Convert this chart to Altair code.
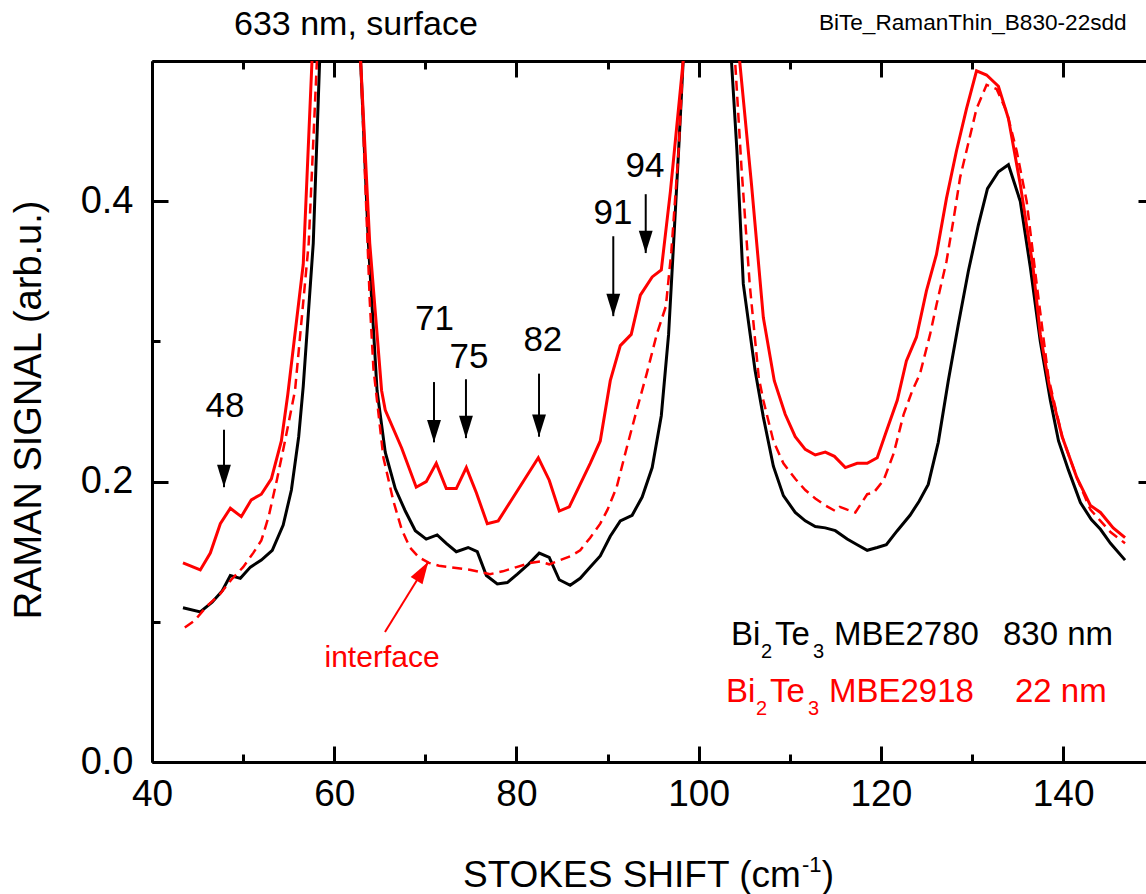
import altair as alt
import pandas as pd

FONT = "Liberation Sans"
X0, X1 = 40.0, 149.1
Y0, Y1 = 0.0, 0.5
W, H = 994, 701

# ---- series (values above 0.5 are off-scale peaks) ----
black_x = [43.4, 45.3, 46.6, 47.7, 48.6, 49.7, 50.8, 52.0, 53.2, 54.4, 55.3, 56.1, 56.6, 57.7, 58.4,
           60.5, 62.9, 63.75, 64.7, 65.6, 66.7, 67.8, 68.9, 70.1, 71.3, 72.3, 73.4, 74.7, 75.7, 76.7,
           77.9, 79.0, 80.1, 81.3, 82.5, 83.6, 84.7, 85.9, 87.0, 88.1, 89.2, 90.3, 91.4, 92.7, 93.8,
           94.9, 95.9, 96.7, 97.2, 97.8, 98.3, 101.0, 103.6, 104.2, 104.9, 106.2, 107.1, 108.2, 109.3,
           110.6, 111.7, 112.8, 113.9, 115.0, 116.3, 117.4, 118.5, 119.6, 120.6, 121.8, 123.2, 124.2,
           125.2, 126.3, 127.4, 128.5, 129.6, 130.7, 131.7, 132.9, 134.0, 135.3, 136.4, 137.5, 138.6,
           139.5, 140.6, 141.9, 143.1, 144.1, 145.2, 146.8]
black_y = [0.110, 0.107, 0.114, 0.122, 0.133, 0.131, 0.139, 0.144, 0.151, 0.169, 0.194, 0.232, 0.268, 0.370, 0.500,
           1.200, 0.500, 0.370, 0.265, 0.221, 0.195, 0.179, 0.165, 0.159, 0.162, 0.156, 0.150, 0.153, 0.150, 0.133,
           0.127, 0.128, 0.134, 0.141, 0.149, 0.146, 0.130, 0.126, 0.131, 0.139, 0.147, 0.161, 0.172, 0.176, 0.189,
           0.210, 0.247, 0.305, 0.364, 0.436, 0.500, 1.200, 0.500, 0.436, 0.341, 0.279, 0.246, 0.211, 0.190,
           0.178, 0.172, 0.168, 0.167, 0.165, 0.159, 0.155, 0.151, 0.153, 0.155, 0.165, 0.176, 0.186,
           0.198, 0.228, 0.272, 0.312, 0.350, 0.383, 0.409, 0.421, 0.426, 0.400, 0.353, 0.300, 0.258,
           0.229, 0.208, 0.185, 0.173, 0.166, 0.156, 0.144]

red_x = [43.4, 45.3, 46.4, 47.5, 48.6, 49.8, 50.9, 52.0, 53.1, 54.2, 54.9, 56.6, 57.56, 60.5, 62.9,
         63.9, 65.2, 65.6, 67.4, 69.0, 70.1, 71.2, 72.3, 73.4, 74.5, 75.6, 76.8, 78.0, 82.4, 83.6,
         84.7, 85.8, 88.1, 89.2, 90.3, 91.4, 92.6, 93.6, 94.9, 95.9, 96.9, 98.3, 101.0, 104.5, 105.8,
         107.1, 108.3, 109.5, 110.6, 111.7, 112.8, 113.9, 114.9, 116.1, 117.4, 118.5, 119.6, 120.5,
         121.8, 122.8, 123.9, 125.0, 126.1, 127.2, 128.3, 129.4, 130.5, 131.6, 132.9, 134.0, 135.3,
         136.7, 137.5, 138.5, 139.9, 141.5, 143.0, 144.1, 145.5, 146.8]
red_y = [0.142, 0.137, 0.149, 0.170, 0.181, 0.175, 0.187, 0.191, 0.202, 0.229, 0.262, 0.355, 0.500, 1.200, 0.500,
         0.370, 0.265, 0.251, 0.224, 0.196, 0.200, 0.213, 0.195, 0.195, 0.210, 0.192, 0.170, 0.172, 0.217, 0.201,
         0.179, 0.182, 0.213, 0.229, 0.272, 0.297, 0.305, 0.333, 0.346, 0.351, 0.407, 0.500, 1.200, 0.500, 0.412,
         0.317, 0.272, 0.248, 0.232, 0.223, 0.219, 0.221, 0.218, 0.210, 0.213, 0.213, 0.217, 0.234,
         0.258, 0.286, 0.303, 0.336, 0.362, 0.402, 0.436, 0.466, 0.493, 0.490, 0.482, 0.459, 0.412,
         0.353, 0.305, 0.268, 0.232, 0.203, 0.183, 0.178, 0.167, 0.160]

dash_x = [43.6, 44.7, 46.0, 47.5, 48.7, 50.0, 51.1, 52.0, 52.8, 53.7, 54.6, 55.7, 57.2, 58.1, 60.5,
          62.9, 63.9, 64.3, 65.4, 66.5, 67.4, 68.3, 69.3, 70.4, 71.5, 72.7, 75.0, 77.1, 78.5, 80.0,
          81.5, 82.6, 83.6, 84.8, 86.0, 87.0, 88.1, 89.2, 90.0, 91.0, 92.1, 93.2, 94.3, 95.4, 96.4,
          97.0, 97.8, 98.3, 101.0, 104.0, 104.7, 105.6, 106.6, 107.1, 108.2, 109.3, 110.6, 111.7,
          112.8, 113.9, 115.0, 115.5, 116.3, 117.2, 118.5, 119.2, 120.3, 121.4, 122.5, 123.4, 124.3,
          125.4, 126.1, 127.2, 128.0, 128.7, 129.4, 130.5, 131.6, 132.7, 133.8, 134.9, 136.0, 137.1,
          138.4, 139.9, 141.5, 143.0, 144.1, 145.2, 146.8]
dash_y = [0.096, 0.101, 0.111, 0.120, 0.130, 0.139, 0.149, 0.158, 0.175, 0.201, 0.229, 0.265, 0.370, 0.500, 1.200,
          0.500, 0.329, 0.281, 0.217, 0.186, 0.166, 0.153, 0.146, 0.142, 0.140, 0.139, 0.137, 0.134, 0.136, 0.139,
          0.142, 0.143, 0.141, 0.144, 0.147, 0.151, 0.160, 0.170, 0.180, 0.196, 0.224, 0.251, 0.277, 0.305, 0.325,
          0.364, 0.436, 0.500, 1.200, 0.500, 0.424, 0.341, 0.274, 0.258, 0.229, 0.213, 0.202, 0.194,
          0.188, 0.183, 0.179, 0.182, 0.180, 0.178, 0.191, 0.192, 0.201, 0.220, 0.248, 0.264, 0.277,
          0.305, 0.326, 0.357, 0.388, 0.417, 0.436, 0.466, 0.483, 0.480, 0.464, 0.436, 0.400, 0.341,
          0.274, 0.232, 0.203, 0.180, 0.172, 0.164, 0.156]

# ---- annotation content ----
peak_labels = ["48", "71", "75", "82", "91", "94"]
peak_label_x = [48.0, 71.0, 74.8, 82.9, 90.6, 94.1]
peak_label_y = [0.246, 0.308, 0.281, 0.293, 0.384, 0.4175]
arrow_x = [47.9, 70.95, 74.46, 82.48, 90.63, 94.19]
arrow_top = [0.237, 0.271, 0.273, 0.277, 0.375, 0.405]
arrow_tip = [0.196, 0.228, 0.231, 0.232, 0.318, 0.363]

iface_tail = (65.57, 0.0927)
iface_tip = (70.33, 0.1429)

xs = alt.Scale(domain=[X0, X1], nice=False, zero=False)
ys = alt.Scale(domain=[Y0, Y1], nice=False, zero=False)

tick_len_x = {"condition": {"test": "datum.value % 20 == 0", "value": 16}, "value": 8}
tick_len_y = {"condition": {"test": "round(datum.value * 10) % 2 == 0", "value": 16}, "value": 8}

ax_x_lab = alt.Axis(orient="bottom", values=[40, 60, 80, 100, 120, 140], ticks=False, domain=True,
                    domainColor="black", domainWidth=3, labelFont=FONT, labelFontSize=37,
                    labelColor="black", labelPadding=14, labelFlush=False, labelOverlap=False,
                    grid=False, title=None)
ax_x_tk = alt.Axis(orient="top", offset=-H, values=list(range(40, 141, 10)), domain=False,
                   labels=False, ticks=True, tickSize=tick_len_x, tickWidth=3, tickColor="black",
                   grid=False, title=None)
ax_x_top = alt.Axis(orient="bottom", offset=-H, values=list(range(40, 141, 10)), domain=True,
                    domainColor="black", domainWidth=3, labels=False, ticks=True, tickSize=tick_len_x,
                    tickWidth=3, tickColor="black", grid=False, title=None)

ax_y_lab = alt.Axis(orient="left", values=[0, 0.2, 0.4], format=".1f", ticks=False, domain=True,
                    domainColor="black", domainWidth=3, labelFont=FONT, labelFontSize=38,
                    labelColor="black", labelPadding=19, labelFlush=False, grid=False, title=None)
ax_y_tk = alt.Axis(orient="right", offset=-W, values=[0, 0.1, 0.2, 0.3, 0.4, 0.5], domain=False,
                   labels=False, ticks=True, tickSize=tick_len_y, tickWidth=3, tickColor="black",
                   grid=False, title=None)
ax_y_right = alt.Axis(orient="left", offset=-W, values=[0, 0.2, 0.4], domain=False, labels=False,
                      ticks=True, tickSize=8, tickWidth=3, tickColor="black", grid=False, title=None)

black_df = pd.DataFrame({"x": black_x, "y": black_y})
red_df = pd.DataFrame({"x": red_x, "y": red_y})
dash_df = pd.DataFrame({"x": dash_x, "y": dash_y})

black_line = alt.Chart(black_df).mark_line(color="black", strokeWidth=3, clip=True).encode(
    x=alt.X("x:Q", scale=xs, axis=ax_x_lab), y=alt.Y("y:Q", scale=ys, axis=ax_y_lab))
dash_line = alt.Chart(dash_df).mark_line(color="#ff0000", strokeWidth=2.5, strokeDash=[10, 6], clip=True).encode(
    x=alt.X("x:Q", scale=xs, axis=ax_x_tk), y=alt.Y("y:Q", scale=ys, axis=ax_y_tk))
red_line = alt.Chart(red_df).mark_line(color="#ff0000", strokeWidth=3, clip=True).encode(
    x=alt.X("x:Q", scale=xs, axis=ax_x_top), y=alt.Y("y:Q", scale=ys, axis=ax_y_right))

# arrows
arr_df = pd.DataFrame({"x": arrow_x, "y": arrow_top, "y2": arrow_tip})
shafts = alt.Chart(arr_df).mark_rule(color="black", strokeWidth=2).encode(
    x=alt.X("x:Q", scale=xs, axis=None), y=alt.Y("y:Q", scale=ys, axis=None), y2="y2:Q")
iface_df = pd.DataFrame({"x": [iface_tail[0]], "x2": [iface_tip[0]], "y": [iface_tail[1]], "y2": [iface_tip[1]]})
iface_shaft = alt.Chart(iface_df).mark_rule(color="#ff0000", strokeWidth=2).encode(
    x=alt.X("x:Q", scale=xs, axis=None), x2="x2:Q", y=alt.Y("y:Q", scale=ys, axis=None), y2="y2:Q")

HEAD = "M-0.62,-2 L0.62,-2 L0,0 Z"
head_df = pd.DataFrame({
    "x": arrow_x + [iface_tip[0]],
    "y": arrow_tip + [iface_tip[1]],
    "c": ["black"] * len(arrow_x) + ["#ff0000"],
    "a": [0] * len(arrow_x) + [211.7],
})
heads = alt.Chart(head_df).mark_point(shape=HEAD, size=500, filled=True, opacity=1, strokeWidth=0).encode(
    x=alt.X("x:Q", scale=xs, axis=None), y=alt.Y("y:Q", scale=ys, axis=None),
    color=alt.Color("c:N", scale=None), angle=alt.Angle("a:Q", scale=None))

# centred labels
cen_df = pd.DataFrame({
    "x": peak_label_x + [65.25],
    "y": peak_label_y + [0.0678],
    "t": peak_labels + ["interface"],
    "s": [35] * len(peak_labels) + [30],
    "c": ["black"] * len(peak_labels) + ["#ff0000"],
})
cen_text = alt.Chart(cen_df).mark_text(align="center", baseline="alphabetic", font=FONT).encode(
    x=alt.X("x:Q", scale=xs, axis=None), y=alt.Y("y:Q", scale=ys, axis=None), text="t:N",
    size=alt.Size("s:Q", scale=None), color=alt.Color("c:N", scale=None))

# left-aligned texts (legend with subscripts, titles, x axis title with superscript)
left_df = pd.DataFrame({
    "x": [103.55, 106.84, 108.38, 112.55, 114.85, 133.40,
          103.00, 106.29, 107.83, 112.00, 114.30, 134.72,
          49.0, 113.2,
          74.13, 111.34, 113.5],
    "y": [0.0835, 0.0742, 0.0835, 0.0742, 0.0835, 0.0835,
          0.0428, 0.0335, 0.0428, 0.0335, 0.0428, 0.0428,
          0.5185, 0.5221,
          -0.0892, -0.0785, -0.0892],
    "t": ["Bi", "2", "Te", "3", "MBE2780", "830 nm",
          "Bi", "2", "Te", "3", "MBE2918", "22 nm",
          "633 nm, surface", "BiTe_RamanThin_B830-22sdd",
          "STOKES SHIFT (cm", "-1", ")"],
    "s": [33, 20, 33, 20, 33, 33,
          33, 20, 33, 20, 33, 33,
          34, 22.6,
          37, 22, 37],
    "c": ["black"] * 6 + ["#ff0000"] * 6 + ["black"] * 5,
})
left_text = alt.Chart(left_df).mark_text(align="left", baseline="alphabetic", font=FONT).encode(
    x=alt.X("x:Q", scale=xs, axis=None), y=alt.Y("y:Q", scale=ys, axis=None), text="t:N",
    size=alt.Size("s:Q", scale=None), color=alt.Color("c:N", scale=None))

ytitle_df = pd.DataFrame({"x": [26.6], "y": [0.2511], "t": ["RAMAN SIGNAL (arb.u.)"]})
ytitle = alt.Chart(ytitle_df).mark_text(align="center", baseline="middle", font=FONT, fontSize=38,
                                        angle=270, color="black").encode(
    x=alt.X("x:Q", scale=xs, axis=None), y=alt.Y("y:Q", scale=ys, axis=None), text="t:N")

chart = alt.layer(
    black_line, dash_line, red_line, shafts, iface_shaft, heads, cen_text, left_text, ytitle
).resolve_axis(x="independent", y="independent").properties(
    width=W, height=H,
    padding={"left": 152, "top": 61, "right": 0, "bottom": 132},
    autosize=alt.AutoSizeParams(type="none"),
    background="white",
).configure_view(stroke=None)

chart.save("out.html", embed_options={"renderer": "svg", "actions": False})
